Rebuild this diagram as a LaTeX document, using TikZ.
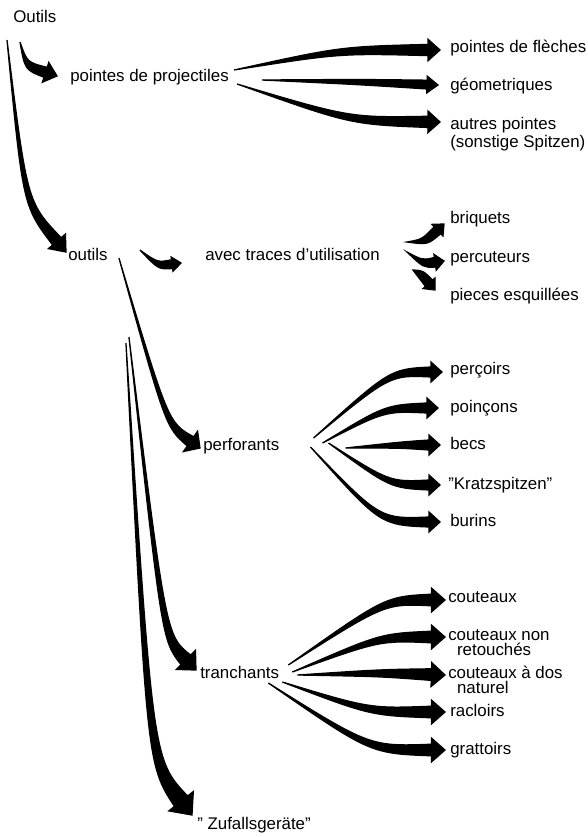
\documentclass[tikz,border=0pt]{standalone}
\usepackage{fontspec}
\setmainfont{Liberation Sans}
\usetikzlibrary{calc}

\newcommand{\fatarrow}[7][0.6]{%
  \path #4 coordinate (tip);
  \path ($(tip)!#7!#3$) coordinate (base);
  \path ($(base)!#5!90:(tip)$) coordinate (sa) ($(base)!#5!-90:(tip)$) coordinate (sb);
  \path ($#3+#1*(sa)-#1*(base)$) coordinate (ca) ($#3+#1*(sb)-#1*(base)$) coordinate (cb);
  \filldraw[line width=0.9pt] #2 .. controls (ca) .. (sa)
    -- ($(base)!#6!90:(tip)$) -- (tip) -- ($(base)!#6!-90:(tip)$)
    -- (sb) .. controls (cb) .. #2 -- cycle;
}

\begin{document}
\begin{tikzpicture}[x=0.25mm,y=-0.25mm]
\tikzstyle{every node}+=[inner sep=0pt]
\tikzstyle{txt}=[anchor=west,font=\fontsize{12}{12}\selectfont]
\tikzstyle{lbl}=[txt,text height=8.5pt,text depth=2.5pt]
\useasboundingbox (0,0) rectangle (588,837);
\node[lbl] (Outils) at (13,18) {Outils};
\node[lbl] (proj) at (70,77) {pointes de projectiles};
\node[lbl] (fleches) at (450,48) {pointes de flèches};
\node[lbl] (geom) at (450,86) {géometriques};
\node[txt,align=left] (autres) at (450,134) {autres pointes\\[0.7pt](sonstige Spitzen)};
\node[lbl] (outils) at (68,256) {outils};
\node[lbl] (avec) at (205,256) {avec traces d’utilisation};
\node[lbl] (briquets) at (450,219) {briquets};
\node[lbl] (percuteurs) at (450,258) {percuteurs};
\node[lbl] (pieces) at (450,296) {pieces esquillées};
\node[lbl] (perforants) at (203,446) {perforants};
\node[lbl] (percoirs) at (450,370) {perçoirs};
\node[lbl] (poincons) at (450,408) {poinçons};
\node[lbl] (becs) at (450,445) {becs};
\node[lbl] (kratz) at (448,485) {"Kratzspitzen"};
\node[lbl] (burins) at (450,522) {burins};
\node[lbl] (tranchants) at (200,674) {tranchants};
\node[lbl] (couteaux) at (448,598) {couteaux};
\node[txt,align=left] (nonret) at (448,643) {couteaux non\\[-1.4pt]\hspace{2.2mm}retouchés};
\node[txt,align=left] (dos) at (448,680) {couteaux à dos\\[-1.4pt]\hspace{2.2mm}naturel};
\node[lbl] (racloirs) at (450,712) {racloirs};
\node[lbl] (grattoirs) at (450,750) {grattoirs};
\node[lbl] (zufall) at (197,825) {" Zufallsgeräte"};
\fatarrow[0.5]{($(Outils.south west)+(-6,14)$)}{(25,204)}{($(outils.west)+(-2,-4)$)}{1.4mm}{2.8mm}{3.5mm}
\fatarrow[0.75]{($(Outils.south west)+(7,16)$)}{(26,66)}{($(proj.west)+(-13,-1)$)}{1.3mm}{2.6mm}{3mm}
\fatarrow{($(proj.east)+(5,-7)$)}{(340,50)}{($(fleches.west)+(-10,2)$)}{1.4mm}{2.7mm}{3mm}
\fatarrow{($(proj.east)+(33,3)$)}{(360,82)}{($(geom.west)+(-12,-1)$)}{1.1mm}{2.1mm}{2.75mm}
\fatarrow{($(proj.east)+(8,7)$)}{(350,121)}{($(autres.west)+(-10,-12)$)}{1.4mm}{2.7mm}{3mm}
\fatarrow[0.8]{($(outils.east)+(32,-6)$)}{(158,266)}{($(avec.west)+(-24,7)$)}{1.1mm}{1.8mm}{2.25mm}
\fatarrow[0.8]{($(avec.east)+(27,-14)$)}{(425,242)}{($(briquets.west)+(-6,5)$)}{1.2mm}{2mm}{2.25mm}
\fatarrow[0.8]{($(avec.east)+(27,-4)$)}{(423,264)}{($(percuteurs.west)+(-6,3)$)}{1.2mm}{2mm}{2.25mm}
\fatarrow[0.8]{($(avec.east)+(33,14)$)}{(420,273)}{($(pieces.west)+(-15,-6)$)}{1.2mm}{2mm}{2.25mm}
\fatarrow[0.45]{($(outils.east)+(11,2)$)}{(167,425)}{($(perforants.west)+(-3,2)$)}{1.4mm}{3.1mm}{2.9mm}
\fatarrow[0.45]{($(outils.east)+(21,81)$)}{(164,638)}{($(tranchants.west)+(-4,-4)$)}{1.7mm}{3.4mm}{3.6mm}
\fatarrow[0.45]{($(outils.east)+(18,87)$)}{(150,762)}{($(zufall.west)+(-5,-10)$)}{2.1mm}{3.9mm}{4.4mm}
\fatarrow{($(perforants.east)+(34,-8)$)}{(390,372)}{($(percoirs.west)+(-8,2)$)}{1.25mm}{2.5mm}{2.75mm}
\fatarrow{($(perforants.east)+(43,-3)$)}{(385,408)}{($(poincons.west)+(-12,0)$)}{1.25mm}{2.5mm}{2.75mm}
\fatarrow{($(perforants.east)+(66,2)$)}{(400,445)}{($(becs.west)+(-10,0)$)}{1.25mm}{2.5mm}{2.75mm}
\fatarrow{($(perforants.east)+(49,-3)$)}{(390,485)}{($(kratz.west)+(-8,0)$)}{1.25mm}{2.5mm}{2.75mm}
\fatarrow{($(perforants.east)+(31,1)$)}{(380,522)}{($(burins.west)+(-10,0)$)}{1.25mm}{2.5mm}{2.75mm}
\fatarrow{($(tranchants.east)+(9,-9)$)}{(385,600)}{($(couteaux.west)+(-3,2)$)}{1.45mm}{3mm}{3.4mm}
\fatarrow{($(tranchants.east)+(13,-2)$)}{(380,637)}{($(nonret.west)+(-3,-6)$)}{1.45mm}{3mm}{3.4mm}
\fatarrow{($(tranchants.east)+(18,1)$)}{(380,673)}{($(dos.west)+(-3,-5)$)}{1.45mm}{3mm}{3.4mm}
\fatarrow{($(tranchants.east)+(3,8)$)}{(370,712)}{($(racloirs.west)+(-5,0)$)}{1.45mm}{3mm}{3.4mm}
\fatarrow{($(tranchants.east)+(-11,9)$)}{(370,750)}{($(grattoirs.west)+(-5,0)$)}{1.45mm}{3mm}{3.4mm}
\end{tikzpicture}
\end{document}
